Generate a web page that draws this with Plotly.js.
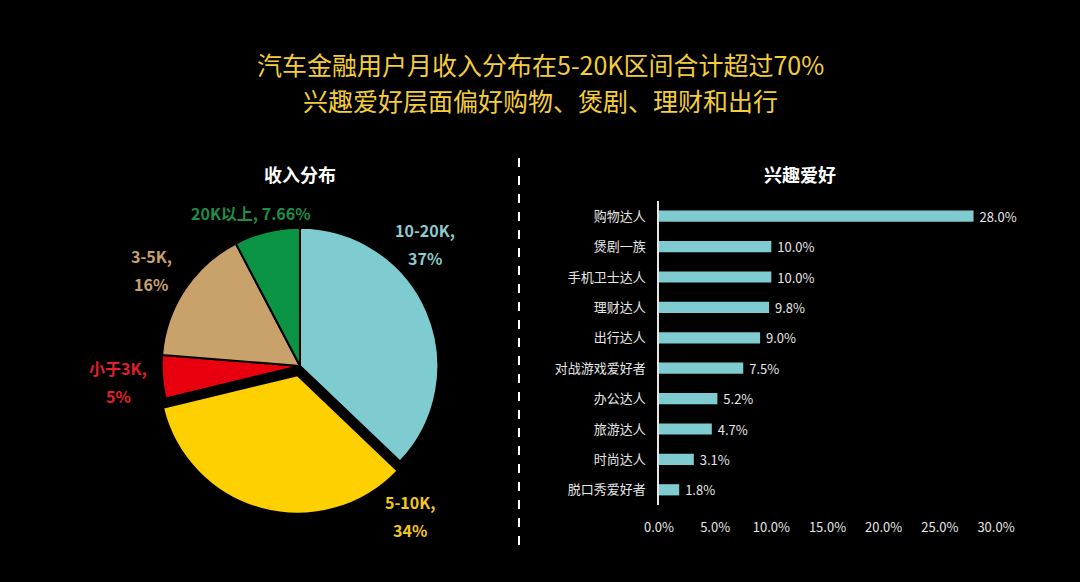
<!DOCTYPE html>
<html>
<head>
<meta charset="utf-8">
<script src="https://cdn.plot.ly/plotly-3.0.1.min.js"></script>
<style>
  html, body { margin: 0; padding: 0; background: #000; }
  #plot { width: 1080px; height: 582px; }
</style>
</head>
<body>
<div id="plot"></div>
<script>
// income distribution (pie, clockwise from 12 o'clock)
let incomeLabels = ['10-20K', '5-10K', '小于3K', '3-5K', '20K以上'];
let incomeValues = [37, 34, 5, 16, 7.66];
let incomeColors = ['#7ecbd0', '#ffd000', '#e8000f', '#c9a16b', '#0b9444'];
let incomeTextColors = ['#8ccbcf', '#f3c81c', '#e0202a', '#c9a16b', '#1e8f48'];

// hobbies (bar)
let hobbyNames = ['购物达人', '煲剧一族', '手机卫士达人', '理财达人', '出行达人',
  '对战游戏爱好者', '办公达人', '旅游达人', '时尚达人', '脱口秀爱好者'];
let hobbyValues = [28.0, 10.0, 10.0, 9.8, 9.0, 7.5, 5.2, 4.7, 3.1, 1.8];

let titleLines = ['汽车金融用户月收入分布在5-20K区间合计超过70%', '兴趣爱好层面偏好购物、煲剧、理财和出行'];

let cjk = '"Noto Sans CJK SC", "Microsoft YaHei", sans-serif';
let W = 1080, H = 582;
let px = x => x / W;
let py = y => 1 - y / H;

let pieTrace = {
  type: 'pie',
  labels: incomeLabels,
  values: incomeValues,
  sort: false,
  direction: 'clockwise',
  rotation: 0,
  pull: [0, 0.07, 0, 0, 0],
  marker: { colors: incomeColors, line: { color: '#000', width: 2 } },
  textinfo: 'none',
  hoverinfo: 'label+value',
  showlegend: false,
  domain: { x: [px(150), px(450)], y: [py(514), py(218)] }
};

let barTrace = {
  type: 'bar',
  orientation: 'h',
  x: hobbyValues,
  y: hobbyNames,
  xaxis: 'x',
  yaxis: 'y',
  marker: { color: '#7ecbd0' },
  text: hobbyValues.map(v => '\u00a0' + v.toFixed(1) + '%'),
  textposition: 'outside',
  constraintext: 'none',
  cliponaxis: false,
  textfont: { color: '#e6e6e6', size: 13, family: cjk },
  showlegend: false
};

// pie labels placed outside the slices (one annotation per line)
let labelPos = [[425, 244], [410, 516], [118, 382], [151, 270], [251, 213]];
let pieAnnotations = [];
incomeLabels.forEach((lab, i) => {
  let lines = i === 4 ? [lab + ', ' + incomeValues[i] + '%']
                      : [lab + ',', incomeValues[i] + '%'];
  lines.forEach((t, j) => {
    let dy = lines.length === 1 ? 0 : (j === 0 ? -14 : 14);
    pieAnnotations.push({
      xref: 'paper', yref: 'paper',
      x: px(labelPos[i][0]), y: py(labelPos[i][1] + dy),
      xanchor: 'center', yanchor: 'middle',
      text: '<b>' + t + '</b>',
      showarrow: false,
      font: { family: cjk, size: 16, color: incomeTextColors[i] }
    });
  });
});

// main title, two lines
let titleAnnotations = titleLines.map((t, j) => ({
  xref: 'paper', yref: 'paper',
  x: 0.5, y: py(j === 0 ? 64 : 100),
  xanchor: 'center', yanchor: 'middle',
  text: t, showarrow: false,
  font: { family: cjk, size: 25, color: '#f3cd3c' }
}));

let layout = {
  width: W, height: H,
  paper_bgcolor: '#000',
  plot_bgcolor: '#000',
  margin: { l: 0, r: 0, t: 0, b: 0 },
  xaxis: {
    domain: [px(659), px(996)],
    range: [0, 30],
    dtick: 5,
    tickformat: '.1f',
    ticksuffix: '%',
    showgrid: false,
    zeroline: false,
    showline: false,
    ticks: 'outside', ticklen: 10, tickcolor: 'rgba(0,0,0,0)',
    tickfont: { family: cjk, size: 13, color: '#e6e6e6' },
    anchor: 'y'
  },
  yaxis: {
    domain: [py(505), py(201)],
    autorange: 'reversed',
    showgrid: false,
    zeroline: false,
    showline: true, linecolor: '#e6e6e6', linewidth: 1.5,
    ticks: 'outside', ticklen: 9, tickcolor: 'rgba(0,0,0,0)',
    tickfont: { family: cjk, size: 13, color: '#e6e6e6' },
    anchor: 'x'
  },
  bargap: 0.63,
  shapes: [{
    type: 'line', xref: 'paper', yref: 'paper',
    x0: px(519), x1: px(519), y0: py(158), y1: py(548),
    line: { color: '#ffffff', width: 2, dash: 'dash' }
  }],
  annotations: [
    {
      xref: 'paper', yref: 'paper', x: px(300), y: py(174),
      xanchor: 'center', yanchor: 'middle',
      text: '<b>收入分布</b>', showarrow: false,
      font: { family: cjk, size: 18, color: '#ffffff' }
    },
    {
      xref: 'paper', yref: 'paper', x: px(800), y: py(174),
      xanchor: 'center', yanchor: 'middle',
      text: '<b>兴趣爱好</b>', showarrow: false,
      font: { family: cjk, size: 18, color: '#ffffff' }
    }
  ].concat(titleAnnotations, pieAnnotations)
};

Plotly.newPlot('plot', [pieTrace, barTrace], layout, { displayModeBar: false });
</script>
</body>
</html>
